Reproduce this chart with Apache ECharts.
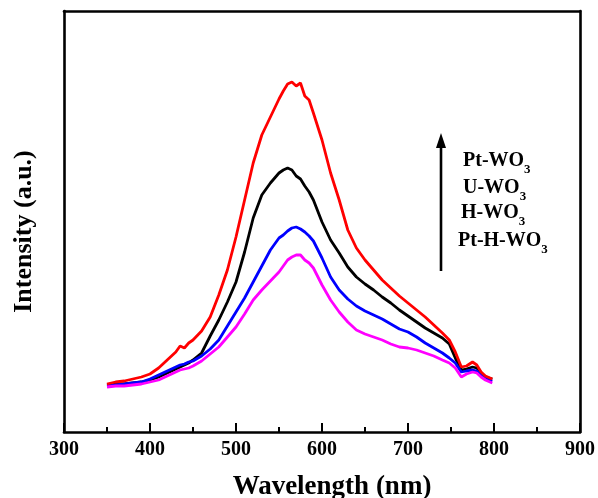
<!DOCTYPE html>
<html><head><meta charset="utf-8">
<script src="https://cdn.jsdelivr.net/npm/echarts@6/dist/echarts.min.js"></script>
<style>html,body{margin:0;padding:0;background:#fff}#c{width:598px;height:498px}</style>
</head><body><div id="c"></div>
<script>
const wavelength = [350,360,370,380,390,400,410,420,430,435,440,445,450,460,470,480,490,500,510,520,530,540,550,555,560,565,570,575,580,585,590,600,610,620,630,640,650,660,670,680,690,700,710,720,730,740,748,755,762,768,775,780,785,790,798];
const ptWO3 = [48,50,51,53,55,58,64,72,80,86,84,89,92,101,115,137,162,195,232,269,297,315,333,341,348,350,346,349,336,332,319,292,259,232,202,184,172,162,152,144,136,129,122,115,107,99,92,80,65,66,70,67,60,56,53];
const uWO3 = [47,48,48,49,50,52,55,59,63,65,67,69,72,79,96,112,130,150,180,214,237,249,259,262,264,262,256,253,246,240,232,210,192,179,165,155,148,142,135,129,122,116,110,104,99,94,88,74,62,63,65,64,59,55,53];
const hWO3 = [46,47,48,49,50,53,57,61,65,67,68,70,71,76,83,92,106,120,134,150,166,182,194,197,201,204,205,203,200,196,191,174,155,142,133,126,121,117,113,108,103,100,95,89,84,79,74,69,60,61,62,61,57,54,51];
const ptHWO3 = [45,46,46,47,48,50,52,56,60,62,63,64,66,71,78,85,95,105,118,132,142,151,160,166,172,175,177,177,172,169,164,147,132,120,110,102,98,95,92,88,85,84,82,79,76,72,69,64,55,58,60,59,55,52,49];
const xTicks = {min:300, max:900, interval:100};
const legendLabels = ['Pt-WO','U-WO','H-WO','Pt-H-WO'];

const pair = arr => wavelength.map((w,i)=>[w,arr[i]]);
const serif = '"Liberation Serif", "DejaVu Serif", serif';
const chart = echarts.init(document.getElementById('c'));
const lineSeries = (name, data, color) => ({
  name, type:'line', data: pair(data), showSymbol:false, symbol:'none',
  lineStyle:{color, width:2.8}, itemStyle:{color}, animation:false, z:3
});
const labelGraphics = legendLabels.map((t,i)=>({
  type:'text', left:[463,463,461,458][i], top:[151,178,203,231][i],
  style:{
    text:'{a|'+t+'}{s|3}',
    rich:{
      a:{fontFamily:serif, fontWeight:'bold', fontSize:20, fill:'#000', verticalAlign:'top', lineHeight:24},
      s:{fontFamily:serif, fontWeight:'bold', fontSize:13, fill:'#000', verticalAlign:'top', padding:[12,0,0,0], lineHeight:24}
    }
  }
}));
chart.setOption({
  backgroundColor:'#fff',
  animation:false,
  grid:{left:64, right:18, top:11, bottom:66, containLabel:false, outerBoundsMode:'none'},
  xAxis:[{
    type:'value', min:xTicks.min, max:xTicks.max, interval:xTicks.interval,
    name:'Wavelength (nm)', nameLocation:'middle', nameGap:42,
    nameTextStyle:{fontFamily:serif, fontWeight:'bold', fontSize:27, color:'#000', padding:[0,0,0,20]},
    axisLine:{show:true, onZero:false, lineStyle:{color:'#000', width:2.6}},
    axisTick:{show:true, inside:true, length:9, lineStyle:{color:'#000', width:2}},
    minorTick:{show:true, splitNumber:2, length:5, lineStyle:{color:'#000', width:2}},
    axisLabel:{fontFamily:serif, fontWeight:'bold', fontSize:20, color:'#000', margin:8},
    splitLine:{show:false}
  },{
    type:'value', position:'top', min:xTicks.min, max:xTicks.max,
    axisLine:{show:true, onZero:false, lineStyle:{color:'#000', width:2.6}},
    axisTick:{show:false}, axisLabel:{show:false}, splitLine:{show:false}
  }],
  yAxis:[{
    type:'value', min:0, max:421,
    name:'Intensity (a.u.)', nameLocation:'middle', nameGap:27,
    nameTextStyle:{fontFamily:serif, fontWeight:'bold', fontSize:26, color:'#000', padding:[0,20,0,0]},
    axisLine:{show:true, onZero:false, lineStyle:{color:'#000', width:2.6}},
    axisTick:{show:false}, axisLabel:{show:false}, splitLine:{show:false}
  },{
    type:'value', position:'right', min:0, max:421,
    axisLine:{show:true, onZero:false, lineStyle:{color:'#000', width:2.6}},
    axisTick:{show:false}, axisLabel:{show:false}, splitLine:{show:false}
  }],
  series:[
    lineSeries('U-WO3', uWO3, '#000000'),
    lineSeries('H-WO3', hWO3, '#0000ff'),
    lineSeries('Pt-H-WO3', ptHWO3, '#ff00ff'),
    lineSeries('Pt-WO3', ptWO3, '#ff0000')
  ],
  graphic:[
    {type:'line', shape:{x1:441, y1:271, x2:441, y2:146}, style:{stroke:'#000', lineWidth:2.6}},
    {type:'polygon', shape:{points:[[441,133],[436,148],[446,148]]}, style:{fill:'#000'}}
  ].concat(labelGraphics)
});
</script></body></html>
